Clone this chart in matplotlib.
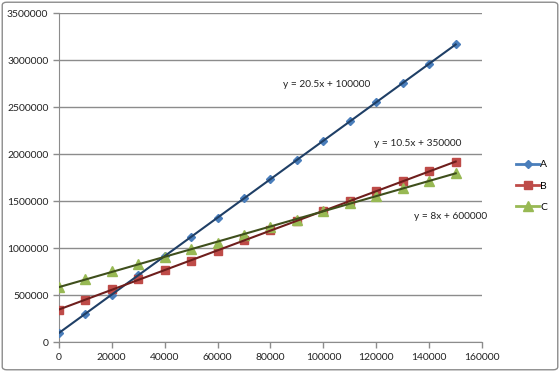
import numpy as np
import matplotlib
matplotlib.use("Agg")
import matplotlib.pyplot as plt
from matplotlib.patches import FancyBboxPatch
from matplotlib.lines import Line2D

x_vals = [0, 10000, 20000, 30000, 40000, 50000, 60000, 70000, 80000,
          90000, 100000, 110000, 120000, 130000, 140000, 150000]
a_vals = [100000, 300000, 505000, 715000, 920000, 1120000, 1325000, 1530000,
          1735000, 1940000, 2145000, 2350000, 2555000, 2760000, 2965000, 3170000]
b_vals = [348000, 453000, 563000, 668000, 768000, 862000, 973000, 1083000,
          1190000, 1293000, 1393000, 1505000, 1615000, 1712000, 1818000, 1923000]
c_vals = [592000, 668000, 755000, 833000, 910000, 988000, 1060000, 1138000,
          1228000, 1305000, 1395000, 1480000, 1560000, 1640000, 1720000, 1800000]
labels = ["A", "B", "C"]
equations = ["y = 20.5x + 100000", "y = 10.5x + 350000", "y = 8x + 600000"]

plt.rcParams['font.family'] = ['Lato', 'DejaVu Sans']

fig = plt.figure(figsize=(5.6, 3.72), dpi=100)
ax = fig.add_axes([0.105, 0.080, 0.756, 0.884])

# outer chart border
fig.patches.append(FancyBboxPatch((0.004, 0.006), 0.992, 0.988, boxstyle="round,pad=0,rounding_size=0.008",
                                  transform=fig.transFigure, fill=False, edgecolor="#8c8c8c", linewidth=1))

series = [
    (a_vals, "#4a7ebb", "#1f3f66", "D", 4.2),
    (b_vals, "#be4b48", "#6e1e1c", "s", 6.0),
    (c_vals, "#98b954", "#3f4f1c", "^", 6.5),
]
x = np.array(x_vals)
handles = []
for (vals, col, tcol, mk, ms), lab in zip(series, labels):
    ax.plot(x, vals, linestyle="none", marker=mk, markersize=ms, color=col, zorder=3)
    k, b = np.polyfit(x, vals, 1)
    ax.plot(x, k * x + b, color=tcol, linewidth=1.5, zorder=4)
    handles.append(Line2D([], [], color=col, linewidth=2, marker=mk, markersize=ms, label=lab))

ax.text(84800, 2740000, equations[0], fontsize=7.3, color="#222222", va="center")
ax.text(119300, 2120000, equations[1], fontsize=7.3, color="#222222", va="center")
ax.text(134100, 1335000, equations[2], fontsize=7.3, color="#222222", va="center")

ax.set_xlim(0, 160000)
ax.set_ylim(0, 3500000)
ax.set_xticks(range(0, 160001, 20000))
ax.set_yticks(range(0, 3500001, 500000))
ax.set_xticklabels([str(v) for v in range(0, 160001, 20000)])
ax.set_yticklabels([str(v) for v in range(0, 3500001, 500000)])
ax.tick_params(labelsize=7.5, colors="#8c8c8c", labelcolor="#222222", length=4, width=1)
ax.grid(axis="y", color="#8c8c8c", linewidth=1)
ax.set_axisbelow(True)
for side in ["top", "right"]:
    ax.spines[side].set_visible(False)
for side in ["left", "bottom"]:
    ax.spines[side].set_color("#8c8c8c")

fig.legend(handles=handles, loc="center left", bbox_to_anchor=(0.905, 0.50), frameon=False,
           fontsize=7.5, handlelength=2.2, handletextpad=0.1, labelspacing=1.15)

fig.savefig("out.png", dpi=100)
